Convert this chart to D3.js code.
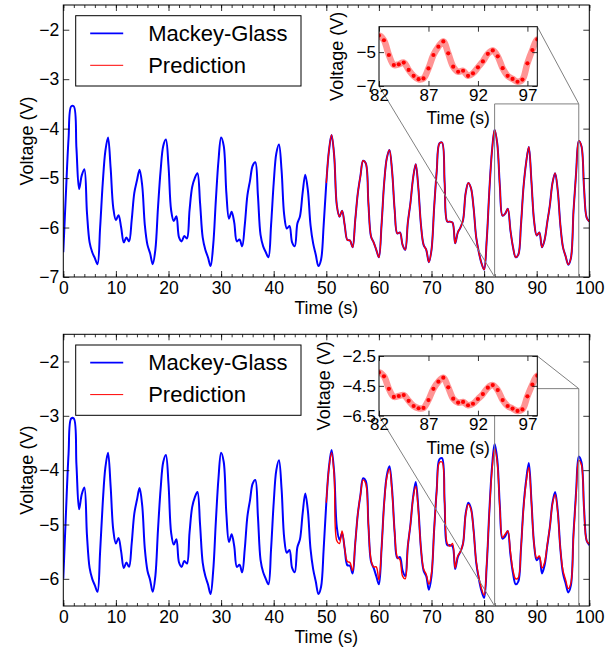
<!DOCTYPE html>
<meta charset="utf-8">
<script src="https://d3js.org/d3.v7.min.js"></script>
<style>
  body { margin: 0; background: #fff; }
  text { font-family: "Liberation Sans", Arial, sans-serif; fill: #000; }
</style>
<div id="viz"></div>
<script>

// sampled every 0.5 s
var timeAll = d3.range(0, 100.01, 0.5);
var timePred = d3.range(50, 100.01, 0.5);

var xTicks = [0, 10, 20, 30, 40, 50, 60, 70, 80, 90, 100];
var xMinor = d3.range(0, 101, 2);
var insetXTicks = [82, 87, 92, 97];

var mgTop = [
  -6.5,-5.3,-4.2,-3.55,-3.55,-4.4,-5.22,-4.95,-4.82,-5.7,
  -6.3,-6.5,-6.62,-6.74,-6.0,-5.1,-4.45,-4.18,-4.8,-5.6,
  -5.85,-5.75,-6.0,-6.3,-6.2,-6.28,-5.85,-5.3,-5.05,-4.83,
  -5.15,-5.95,-6.35,-6.52,-6.74,-6.45,-5.6,-4.85,-4.35,-4.22,
  -4.75,-5.65,-5.87,-5.77,-6.2,-6.28,-6.17,-6.22,-5.65,-5.18,
  -5.0,-4.9,-5.5,-6.2,-6.45,-6.6,-6.78,-6.35,-5.45,-4.65,
  -4.18,-4.35,-5.3,-5.82,-5.68,-5.9,-6.28,-6.24,-6.38,-5.95,
  -5.35,-5.05,-4.75,-4.68,-5.35,-6.15,-6.38,-6.5,-6.6,-5.95,
  -5.1,-4.5,-4.32,-4.85,-5.75,-6.02,-5.97,-6.3,-6.38,-5.92,
  -5.77,-5.3,-4.93,-5.25,-5.95,-6.32,-6.55,-6.78,-6.65,-5.95,
  -5.1,-4.45,-4.13,-4.55,-5.55,-5.78,-5.66,-5.95,-6.25,-6.26,
  -6.4,-5.85,-5.3,-4.95,-4.65,-4.7,-5.5,-6.18,-6.3,-6.45,
  -6.6,-5.95,-5.1,-4.6,-4.43,-4.85,-5.65,-6.12,-6.1,-6.35,
  -6.45,-5.9,-5.5,-5.0,-4.72,-5.2,-5.95,-6.35,-6.45,-6.7,
  -6.45,-5.6,-4.85,-4.3,-4.28,-5.1,-5.88,-5.88,-5.9,-6.32,
  -6.1,-6.0,-5.85,-5.3,-5.1,-5.2,-5.6,-6.2,-6.5,-6.72,
  -6.85,-6.25,-5.25,-4.45,-4.02,-4.3,-5.17,-5.76,-5.72,-5.62,
  -6.05,-6.4,-6.6,-6.55,-5.96,-5.17,-4.68,-4.37,-5.07,-5.86,
  -6.16,-6.1,-6.4,-6.25,-5.9,-5.55,-5.1,-4.9,-5.25,-5.95,
  -6.4,-6.58,-6.75,-6.62,-5.66,-4.88,-4.25,-4.35,-5.2,-5.8,
  -5.88];

var predTop = [
  -5.1,-4.45,-4.13,-4.55,-5.55,-5.78,-5.66,-5.95,-6.25,-6.26,
  -6.4,-5.85,-5.3,-4.95,-4.65,-4.7,-5.5,-6.18,-6.3,-6.45,
  -6.6,-5.95,-5.1,-4.6,-4.43,-4.85,-5.65,-6.12,-6.1,-6.35,
  -6.45,-5.9,-5.5,-5.0,-4.72,-5.2,-5.95,-6.35,-6.45,-6.7,
  -6.45,-5.6,-4.85,-4.3,-4.28,-5.1,-5.88,-5.88,-5.9,-6.32,
  -6.1,-6.0,-5.85,-5.3,-5.1,-5.2,-5.6,-6.2,-6.5,-6.72,
  -6.85,-6.25,-5.25,-4.45,-4.02,-4.3,-5.17,-5.76,-5.72,-5.62,
  -6.05,-6.4,-6.6,-6.55,-5.96,-5.17,-4.68,-4.37,-5.07,-5.86,
  -6.16,-6.1,-6.4,-6.25,-5.9,-5.55,-5.1,-4.9,-5.25,-5.95,
  -6.4,-6.58,-6.75,-6.62,-5.66,-4.88,-4.25,-4.35,-5.2,-5.8,
  -5.88];

var mgBot = [
  -6.0,-4.8,-3.7,-3.05,-3.05,-3.9,-4.72,-4.45,-4.32,-5.2,
  -5.8,-6.0,-6.12,-6.24,-5.5,-4.6,-3.95,-3.68,-4.3,-5.1,
  -5.35,-5.25,-5.5,-5.8,-5.7,-5.78,-5.35,-4.8,-4.55,-4.33,
  -4.65,-5.45,-5.85,-6.02,-6.24,-5.95,-5.1,-4.35,-3.85,-3.72,
  -4.25,-5.15,-5.37,-5.27,-5.7,-5.78,-5.67,-5.72,-5.15,-4.68,
  -4.5,-4.4,-5.0,-5.7,-5.95,-6.1,-6.28,-5.85,-4.95,-4.15,
  -3.68,-3.85,-4.8,-5.32,-5.18,-5.4,-5.78,-5.74,-5.88,-5.45,
  -4.85,-4.55,-4.25,-4.18,-4.85,-5.65,-5.88,-6.0,-6.1,-5.45,
  -4.6,-4.0,-3.82,-4.35,-5.25,-5.52,-5.47,-5.8,-5.88,-5.42,
  -5.27,-4.8,-4.43,-4.75,-5.45,-5.82,-6.05,-6.28,-6.15,-5.45,
  -4.6,-3.95,-3.63,-4.05,-5.05,-5.28,-5.16,-5.45,-5.75,-5.76,
  -5.9,-5.35,-4.8,-4.45,-4.15,-4.2,-5.0,-5.68,-5.8,-5.95,
  -6.1,-5.45,-4.6,-4.1,-3.93,-4.35,-5.15,-5.62,-5.6,-5.85,
  -5.95,-5.4,-5.0,-4.5,-4.22,-4.7,-5.45,-5.85,-5.95,-6.2,
  -5.95,-5.1,-4.35,-3.8,-3.78,-4.6,-5.38,-5.38,-5.4,-5.82,
  -5.6,-5.5,-5.35,-4.8,-4.6,-4.7,-5.1,-5.7,-6.0,-6.22,
  -6.35,-5.75,-4.75,-3.95,-3.52,-3.8,-4.67,-5.26,-5.22,-5.12,
  -5.55,-5.9,-6.1,-6.05,-5.46,-4.67,-4.18,-3.87,-4.57,-5.36,
  -5.66,-5.6,-5.9,-5.75,-5.4,-5.05,-4.6,-4.4,-4.75,-5.45,
  -5.9,-6.08,-6.25,-6.12,-5.16,-4.38,-3.75,-3.85,-4.7,-5.3,
  -5.38];

var predBot = [
  -4.6,-3.97,-3.68,-4.1,-5.3,-5.35,-5.12,-5.45,-5.68,-5.7,
  -5.85,-5.35,-4.8,-4.45,-4.18,-4.25,-5.0,-5.65,-5.78,-5.78,
  -6.02,-5.45,-4.62,-4.14,-3.98,-4.4,-5.15,-5.6,-5.65,-5.95,
  -6.0,-5.4,-5.0,-4.52,-4.3,-4.75,-5.45,-5.82,-5.92,-6.1,
  -5.9,-5.1,-4.38,-3.86,-3.85,-4.6,-5.35,-5.4,-5.35,-5.8,
  -5.58,-5.5,-5.35,-4.82,-4.63,-4.72,-5.12,-5.68,-5.97,-6.18,
  -6.3,-5.72,-4.78,-4.0,-3.6,-3.86,-4.7,-5.24,-5.18,-5.12,
  -5.5,-5.85,-6.0,-5.98,-5.45,-4.7,-4.22,-3.95,-4.6,-5.36,
  -5.62,-5.58,-5.8,-5.7,-5.38,-5.05,-4.62,-4.45,-4.78,-5.45,
  -5.85,-6.02,-6.18,-6.08,-5.2,-4.42,-3.82,-3.9,-4.72,-5.3,
  -5.36];

var W = 613, H = 654;

var svg = d3.select("#viz")
  .append("svg")
    .attr("width", W)
    .attr("height", H);

var panels = [
  { mg: mgTop, pred: predTop, id: "a",
    box: {left: 63.3, right: 589.3, top: 5, bottom: 277},
    yDomain: [-7, -1.5], yTicks: [-2, -3, -4, -5, -6, -7],
    inset: {left: 379, right: 537.3, top: 26.7, bottom: 86},
    insetY: [-7, -3.5], insetYTicks: [-5, -7], insetFmt: d3.format("d"),
    insetLabelX: 343 },
  { mg: mgBot, pred: predBot, id: "b",
    box: {left: 63.3, right: 589.3, top: 334.3, bottom: 606},
    yDomain: [-6.5, -1.5], yTicks: [-2, -3, -4, -5, -6],
    inset: {left: 379, right: 537.3, top: 356, bottom: 415.7},
    insetY: [-6.5, -2.5], insetYTicks: [-2.5, -4.5, -6.5], insetFmt: d3.format(".1f"),
    insetLabelX: 330 }
];

function minus(f) {
  return function(d) { return f(d).replace("-", "\u2212"); };
}

function styleAxis(g, size) {
  g.select(".domain").remove();
  g.selectAll(".tick line").attr("stroke", "#000").attr("stroke-width", 0.8);
  g.selectAll("text")
    .attr("font-family", "Liberation Sans, Arial, sans-serif")
    .attr("font-size", size)
    .attr("fill", "#000");
}

panels.forEach(function(p) {
  var b = p.box, ins = p.inset;

  var x = d3.scaleLinear().domain([0, 100]).range([b.left, b.right]);
  var y = d3.scaleLinear().domain(p.yDomain).range([b.bottom, b.top]);

  svg.append("clipPath").attr("id", "clip" + p.id)
    .append("rect")
      .attr("x", b.left).attr("y", b.top)
      .attr("width", b.right - b.left).attr("height", b.bottom - b.top);

  var line = d3.line()
    .x(function(d) { return x(d[0]); })
    .y(function(d) { return y(d[1]); })
    .curve(d3.curveCatmullRom);

  var mgPts = timeAll.map(function(t, i) { return [t, p.mg[i]]; });
  var predPts = timePred.map(function(t, i) { return [t, p.pred[i]]; });

  var plot = svg.append("g").attr("clip-path", "url(#clip" + p.id + ")");
  plot.append("path")
    .attr("d", line(mgPts))
    .attr("fill", "none")
    .attr("stroke", "#0000ff")
    .attr("stroke-width", 2);
  plot.append("path")
    .attr("d", line(predPts))
    .attr("fill", "none")
    .attr("stroke", "#ff0000")
    .attr("stroke-width", 1.4);

  // axes, ticks inward on all sides
  var gb = svg.append("g").attr("transform", "translate(0," + b.bottom + ")")
    .call(d3.axisBottom(x).tickValues(xTicks).tickSize(-6).tickPadding(4.5).tickFormat(d3.format("d")));
  styleAxis(gb, 17.5);
  styleAxis(svg.append("g").attr("transform", "translate(0," + b.bottom + ")")
    .call(d3.axisBottom(x).tickValues(xMinor).tickSize(-3).tickFormat("")), 10);
  styleAxis(svg.append("g").attr("transform", "translate(0," + b.top + ")")
    .call(d3.axisTop(x).tickValues(xTicks).tickSize(-6).tickFormat("")), 10);
  styleAxis(svg.append("g").attr("transform", "translate(0," + b.top + ")")
    .call(d3.axisTop(x).tickValues(xMinor).tickSize(-3).tickFormat("")), 10);
  var gl = svg.append("g").attr("transform", "translate(" + b.left + ",0)")
    .call(d3.axisLeft(y).tickValues(p.yTicks).tickSize(-6).tickPadding(4).tickFormat(minus(d3.format("d"))));
  styleAxis(gl, 17.5);
  styleAxis(svg.append("g").attr("transform", "translate(" + b.right + ",0)")
    .call(d3.axisRight(y).tickValues(p.yTicks).tickSize(-6).tickFormat("")), 10);

  svg.append("rect")
    .attr("x", b.left).attr("y", b.top)
    .attr("width", b.right - b.left).attr("height", b.bottom - b.top)
    .attr("fill", "none").attr("stroke", "#000").attr("stroke-width", 1);

  svg.append("text")
    .attr("x", (b.left + b.right) / 2).attr("y", b.bottom + 37)
    .attr("text-anchor", "middle").attr("font-size", 17.5)
    .text("Time (s)");
  svg.append("text")
    .attr("transform", "translate(33," + (b.top + b.bottom) / 2 + ") rotate(-90)")
    .attr("text-anchor", "middle").attr("font-size", 18)
    .text("Voltage (V)");

  // zoom box and connector lines
  var zx0 = x(82), zx1 = x(98), zy = y(p.insetY[1]);
  svg.append("path")
    .attr("d", "M" + zx0 + "," + b.bottom + "V" + zy + "H" + zx1 + "V" + b.bottom)
    .attr("fill", "none").attr("stroke", "#808080").attr("stroke-width", 1);
  svg.append("line")
    .attr("x1", ins.right).attr("y1", ins.top).attr("x2", zx1).attr("y2", zy)
    .attr("stroke", "#808080").attr("stroke-width", 1);
  svg.append("line")
    .attr("x1", ins.left).attr("y1", ins.bottom).attr("x2", zx0).attr("y2", b.bottom)
    .attr("stroke", "#808080").attr("stroke-width", 1);

  // legend
  var lg = svg.append("g").attr("transform", "translate(75.7," + (b.top + 10.7) + ")");
  lg.append("rect")
    .attr("width", 225.3).attr("height", 70.3)
    .attr("fill", "#fff").attr("stroke", "#000").attr("stroke-width", 1);
  [["Mackey-Glass", "#0000ff", 1.8], ["Prediction", "#ff0000", 1]].forEach(function(e, i) {
    lg.append("line")
      .attr("x1", 14.5).attr("x2", 47.5)
      .attr("y1", 17.6 + i * 32).attr("y2", 17.6 + i * 32)
      .attr("stroke", e[1]).attr("stroke-width", e[2]);
    lg.append("text")
      .attr("x", 72.5).attr("y", 25 + i * 32)
      .attr("font-size", 22)
      .text(e[0]);
  });

  // inset
  var ix = d3.scaleLinear().domain([82, 98]).range([ins.left, ins.right]);
  var iy = d3.scaleLinear().domain(p.insetY).range([ins.bottom, ins.top]);

  svg.append("rect")
    .attr("x", ins.left).attr("y", ins.top)
    .attr("width", ins.right - ins.left).attr("height", ins.bottom - ins.top)
    .attr("fill", "#fff");
  svg.append("clipPath").attr("id", "iclip" + p.id)
    .append("rect")
      .attr("x", ins.left).attr("y", ins.top)
      .attr("width", ins.right - ins.left).attr("height", ins.bottom - ins.top);

  var iline = d3.line()
    .x(function(d) { return ix(d[0]); })
    .y(function(d) { return iy(d[1]); })
    .curve(d3.curveCatmullRom);

  var inPts = mgPts.filter(function(d) { return d[0] >= 81 && d[0] <= 99; });
  var inPred = predPts.filter(function(d) { return d[0] >= 81 && d[0] <= 99; });

  var ip = svg.append("g").attr("clip-path", "url(#iclip" + p.id + ")");
  ip.append("path")
    .attr("d", iline(inPts))
    .attr("fill", "none").attr("stroke", "#0000ff").attr("stroke-width", 1.6);
  ip.append("path")
    .attr("d", iline(inPred))
    .attr("fill", "none").attr("stroke", "#ff9494")
    .attr("stroke-width", 6.5).attr("stroke-linecap", "round").attr("stroke-linejoin", "round");
  ip.selectAll("circle")
    .data(inPred.filter(function(d) { return d[0] >= 82 && d[0] <= 98; }))
    .enter()
    .append("circle")
      .attr("cx", function(d) { return ix(d[0]); })
      .attr("cy", function(d) { return iy(d[1]); })
      .attr("r", 2.1)
      .attr("fill", "#ff0000");

  var ib = svg.append("g").attr("transform", "translate(0," + ins.bottom + ")")
    .call(d3.axisBottom(ix).tickValues(insetXTicks).tickSize(-5).tickPadding(2.5).tickFormat(d3.format("d")));
  styleAxis(ib, 17);
  styleAxis(svg.append("g").attr("transform", "translate(0," + ins.top + ")")
    .call(d3.axisTop(ix).tickValues(insetXTicks).tickSize(-5).tickFormat("")), 10);
  var il = svg.append("g").attr("transform", "translate(" + ins.left + ",0)")
    .call(d3.axisLeft(iy).tickValues(p.insetYTicks).tickSize(-5).tickPadding(3).tickFormat(minus(p.insetFmt)));
  styleAxis(il, 17);
  styleAxis(svg.append("g").attr("transform", "translate(" + ins.right + ",0)")
    .call(d3.axisRight(iy).tickValues(p.insetYTicks).tickSize(-5).tickFormat("")), 10);

  svg.append("rect")
    .attr("x", ins.left).attr("y", ins.top)
    .attr("width", ins.right - ins.left).attr("height", ins.bottom - ins.top)
    .attr("fill", "none").attr("stroke", "#000").attr("stroke-width", 1);

  svg.append("text")
    .attr("x", (ins.left + ins.right) / 2).attr("y", ins.bottom + 38)
    .attr("text-anchor", "middle").attr("font-size", 17.5)
    .text("Time (s)");
  svg.append("text")
    .attr("transform", "translate(" + p.insetLabelX + "," + (ins.top + ins.bottom) / 2 + ") rotate(-90)")
    .attr("text-anchor", "middle").attr("font-size", 18)
    .text("Voltage (V)");
});

</script>
